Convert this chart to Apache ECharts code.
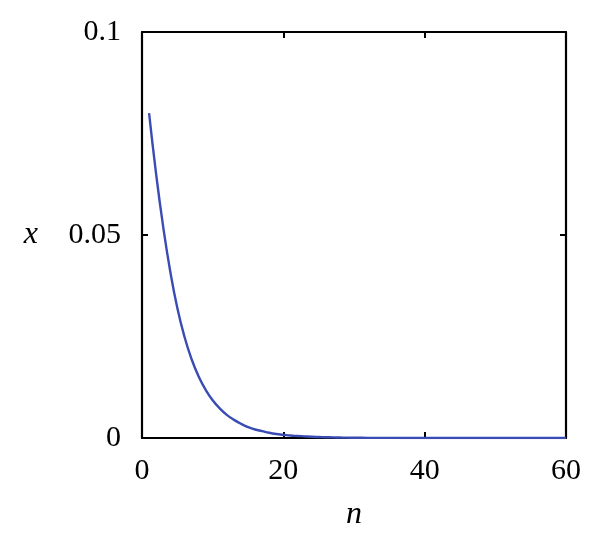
<!DOCTYPE html>
<html>
<head>
<meta charset="utf-8">
<script src="https://cdn.jsdelivr.net/npm/echarts@6/dist/echarts.min.js"></script>
<style>html,body{margin:0;padding:0;background:#fff;}#c{width:600px;height:544px;}</style>
</head>
<body>
<div id="c"></div>
<script>
// n values (iteration index) and estimated x values
var nValues = [1,2,3,4,5,6,7,8,9,10,11,12,13,14,15,16,17,18,19,20,21,22,23,24,25,26,27,28,29,30,32,34,36,38,40,45,50,55,60];
var xValues = [0.080,0.065,0.052,0.041,0.032,0.0250,0.0195,0.0152,0.0119,0.0093,0.0073,0.0057,0.0045,0.0035,0.0027,0.0021,0.0017,0.0013,0.0010,0.0008,0.0006,0.0005,0.0004,0.0003,0.00024,0.00019,0.00015,0.00012,0.00009,0.00007,0.00004,0.00003,0.00002,0.00001,0.00001,0,0,0,0];
var xTicks = [0,20,40,60];
var yTicks = [0,0.05,0.1];
var yTickLabels = {'0':'0','0.05':'0.05','0.1':'0.1'};

var data = nValues.map(function(n,i){return [n,xValues[i]];});
var font = 'Liberation Serif';
var chart = echarts.init(document.getElementById('c'));
var axisLineStyle = {color:'#000',width:2.2};
var tickStyle = {show:true,inside:true,length:6,lineStyle:{color:'#000',width:2}};
chart.setOption({
  animation:false,
  grid:{left:142,right:34,top:32,bottom:106},
  xAxis:[{
    type:'value',min:0,max:60,interval:20,position:'bottom',
    name:'n',nameLocation:'middle',nameGap:61,
    nameTextStyle:{fontFamily:font,fontStyle:'italic',fontSize:32,color:'#000'},
    axisLine:{show:true,onZero:false,lineStyle:axisLineStyle},
    axisTick:tickStyle,
    axisLabel:{fontFamily:font,fontSize:30,color:'#000',margin:18},
    splitLine:{show:false}
  },{
    type:'value',min:0,max:60,interval:20,position:'top',
    axisLine:{show:true,onZero:false,lineStyle:axisLineStyle},
    axisTick:tickStyle,
    axisLabel:{show:false},splitLine:{show:false}
  }],
  yAxis:[{
    type:'value',min:0,max:0.1,interval:0.05,position:'left',
    name:'x',nameLocation:'middle',nameGap:104,nameRotate:0,
    nameTextStyle:{fontFamily:font,fontStyle:'italic',fontSize:32,color:'#000'},
    axisLine:{show:true,onZero:false,lineStyle:axisLineStyle},
    axisTick:tickStyle,
    axisLabel:{fontFamily:font,fontSize:30,color:'#000',margin:21,
      formatter:function(v){var k=String(+v.toFixed(2));return yTickLabels[k]!==undefined?yTickLabels[k]:k;}},
    splitLine:{show:false}
  },{
    type:'value',min:0,max:0.1,interval:0.05,position:'right',
    axisLine:{show:true,onZero:false,lineStyle:axisLineStyle},
    axisTick:tickStyle,
    axisLabel:{show:false},splitLine:{show:false}
  }],
  series:[{
    type:'line',data:data,smooth:true,showSymbol:false,
    lineStyle:{color:'#3a4cb4',width:2.4},
    z:1
  }]
});
</script>
</body>
</html>
